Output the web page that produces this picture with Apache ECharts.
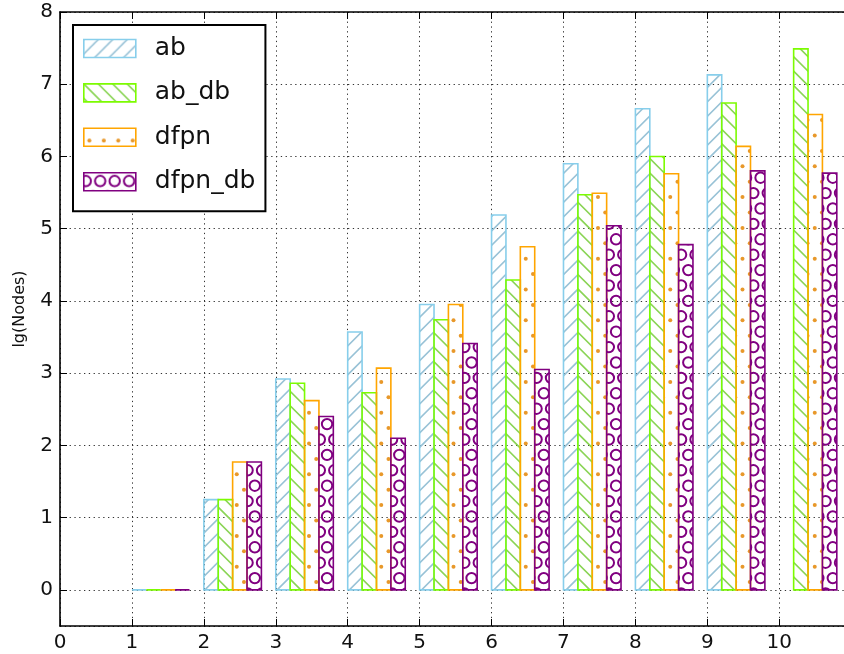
<!DOCTYPE html>
<html>
<head>
<meta charset="utf-8">
<script src="https://cdn.jsdelivr.net/npm/echarts@6/dist/echarts.min.js"></script>
<style>
  html, body { margin: 0; padding: 0; background: #fff; }
  #chart { width: 844px; height: 654px; }
</style>
</head>
<body>
<div id="chart"></div>
<script>
// Problem sizes on the x axis (each group of four bars starts at its size)
const sizes = [1, 2, 3, 4, 5, 6, 7, 8, 9, 10];
const seriesNames = ['ab', 'ab_db', 'dfpn', 'dfpn_db'];

// lg(Nodes) per solver; null = no result for that size
const abNodes     = [0, 1.25, 2.92, 3.57, 3.95, 5.19, 5.90, 6.66, 7.13, null];
const abDbNodes   = [0, 1.25, 2.86, 2.73, 3.74, 4.29, 5.47, 6.00, 6.74, 7.49];
const dfpnNodes   = [0, 1.77, 2.62, 3.07, 3.95, 4.75, 5.49, 5.76, 6.14, 6.58];
const dfpnDbNodes = [0, 1.77, 2.40, 2.10, 3.41, 3.05, 5.04, 4.78, 5.80, 5.77];

const xTickLabels = ['0', '1', '2', '3', '4', '5', '6', '7', '8', '9', '10'];
const yTickLabels = ['0', '1', '2', '3', '4', '5', '6', '7', '8'];

const BAR_W = 0.2;          // bar width in x-axis units
const FONT = 'DejaVu Sans';

// ---- hatch tiles (canvas patterns, anchored at the canvas origin) ----
const PX = 14.45, PY = 15.4;
function tile(w, h, draw) {
  const c = document.createElement('canvas');
  c.width = w; c.height = h;
  const ctx = c.getContext('2d');
  draw(ctx, w, h);
  return { type: 'pattern', image: c, repeat: 'repeat' };
}
function lineHatch(color, dir) {
  return tile(289, 289, (ctx, w, h) => {
    ctx.strokeStyle = color; ctx.lineWidth = 1.6; ctx.beginPath();
    for (let k = -22; k <= 42; k++) {
      const c = k * PX;
      if (dir > 0) { ctx.moveTo(c + 10, -10); ctx.lineTo(c - h - 10, h + 10); }
      else { ctx.moveTo(c - 10, -10); ctx.lineTo(c + h + 10, h + 10); }
    }
    ctx.stroke();
  });
}
function shapeHatch(x0, y0, drawShape) {
  return (ctx, w, h) => {
    for (let r = -2; r <= 12; r++) {
      const y = y0 + r * PY;
      const off = (((r % 2) + 2) % 2) ? PX / 2 : 0;
      for (let k = -2; k <= 22; k++) drawShape(ctx, x0 + off + k * PX, y);
    }
  };
}
const dotsTile = (color) => tile(289, 154, shapeHatch(5.55, 12.3, (ctx, x, y) => {
  ctx.fillStyle = color; ctx.beginPath(); ctx.arc(x, y, 2.0, 0, Math.PI * 2); ctx.fill();
}));
const ringsTile = (color) => tile(289, 154, shapeHatch(9.15, 23.7, (ctx, x, y) => {
  ctx.strokeStyle = color; ctx.lineWidth = 2.0; ctx.beginPath(); ctx.arc(x, y, 5.2, 0, Math.PI * 2); ctx.stroke();
}));

const styles = [
  { edge: '#87ceeb', fill: lineHatch('#98c2d6', 1) },
  { edge: '#7cfc00', fill: lineHatch('#8ad455', -1) },
  { edge: '#ffa500', fill: dotsTile('#e8982a') },
  { edge: '#800080', fill: ringsTile('#800080') }
];
const valueSets = [abNodes, abDbNodes, dfpnNodes, dfpnDbNodes];

function barSeries(name, values, j) {
  const st = styles[j];
  const data = [];
  sizes.forEach((s, i) => { if (values[i] !== null) data.push([s + j * BAR_W, values[i]]); });
  return {
    type: 'custom', name, data, clip: true,
    encode: { x: 0, y: 1 },
    itemStyle: { color: st.fill, borderColor: st.edge, borderWidth: 1.6 },
    renderItem(params, api) {
      const x = api.value(0), v = api.value(1);
      const p0 = api.coord([x, 0]);
      const p1 = api.coord([x + BAR_W, v]);
      return {
        type: 'rect',
        shape: { x: p0[0], y: Math.min(p0[1], p1[1]), width: p1[0] - p0[0], height: Math.abs(p0[1] - p1[1]) },
        style: { fill: st.fill, stroke: st.edge, lineWidth: 1.6 }
      };
    }
  };
}

const gridLine = { show: true, lineStyle: { color: '#333', width: 1, type: [1.3, 3.5] } };
const spine = { show: true, onZero: false, lineStyle: { color: '#000', width: 1.6 } };
const innerTick = { show: true, inside: true, length: 7, lineStyle: { color: '#000', width: 1 } };

const chart = echarts.init(document.getElementById('chart'), null, { renderer: 'canvas' });
chart.setOption({
  animation: false,
  backgroundColor: '#fff',
  grid: { left: 60, top: 12, width: 787, height: 614, containLabel: false },
  xAxis: [
    {
      type: 'value', min: 0, max: 10.9, interval: 1, position: 'bottom',
      axisLine: spine, axisTick: innerTick, splitLine: gridLine,
      axisLabel: {
        color: '#111', fontFamily: FONT, fontSize: 20, margin: 7, showMaxLabel: false,
        formatter: (v) => xTickLabels[Math.round(v)] ?? ''
      }
    },
    {
      type: 'value', min: 0, max: 10.9, interval: 1, position: 'top',
      axisLine: spine, axisTick: innerTick, splitLine: { show: false }, axisLabel: { show: false }
    }
  ],
  yAxis: {
    type: 'value', min: -0.5, max: 8, splitNumber: 8,
    axisLine: spine, axisTick: innerTick, splitLine: gridLine,
    name: 'lg(Nodes)', nameLocation: 'middle', nameGap: 32,
    nameTextStyle: { color: '#111', fontFamily: FONT, fontSize: 16, padding: [0, 0, 0, 20] },
    axisLabel: {
      color: '#111', fontFamily: FONT, fontSize: 20, margin: 7, showMinLabel: false,
      formatter: (v) => (Number.isInteger(v) ? (yTickLabels[v] ?? '') : '')
    }
  },
  legend: {
    orient: 'vertical', left: 73, top: 25,
    padding: [11, 10, 17, 10], itemGap: 19.4, itemWidth: 52, itemHeight: 18,
    borderColor: '#000', borderWidth: 2, backgroundColor: '#fff',
    icon: 'rect',
    textStyle: { color: '#111', fontFamily: FONT, fontSize: 25, lineHeight: 18, padding: [0, 0, 0, 14] },
    data: seriesNames.map((n, j) => ({
      name: n, icon: 'rect',
      itemStyle: { color: styles[j].fill, borderColor: styles[j].edge, borderWidth: 1.6 }
    }))
  },
  series: seriesNames.map((n, j) => barSeries(n, valueSets[j], j))
});
</script>
</body>
</html>
